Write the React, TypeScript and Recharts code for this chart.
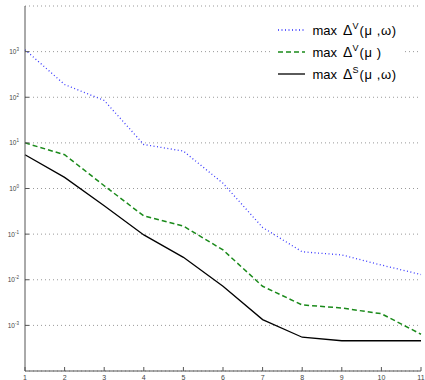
import { LineChart, Line, XAxis, YAxis, CartesianGrid } from 'recharts'

const steps = [1, 2, 3, 4, 5, 6, 7, 8, 9, 10, 11]
const maxDeltaVMuOmega = [1100, 190, 85, 9.2, 6.6, 1.3, 0.14, 0.041, 0.035, 0.021, 0.013]
const maxDeltaVMu = [10, 5.5, 1.15, 0.25, 0.15, 0.045, 0.0072, 0.0028, 0.0024, 0.0018, 0.00064]
const maxDeltaSMuOmega = [5.5, 1.75, 0.42, 0.096, 0.031, 0.0072, 0.00134, 0.00055, 0.00046, 0.00046, 0.00046]

const yTicks = [1e-3, 1e-2, 1e-1, 1, 10, 100, 1000]
const xTicks = steps

const data = steps.map((s, i) => ({
  step: s,
  vmw: maxDeltaVMuOmega[i],
  vm: maxDeltaVMu[i],
  smw: maxDeltaSMuOmega[i],
}))

const axisColor = '#555'
const font = '"Liberation Sans", Arial, sans-serif'

function YTick({ x, y, payload }: any) {
  const exp = Math.round(Math.log10(payload.value))
  return (
    <g>
      <line x1={x} y1={y} x2={x + 4} y2={y} stroke={axisColor} />
      <text x={x - 6} y={y + 2.5} textAnchor="end" fontSize={6.5} fill="#444" fontFamily={font}>
        10
        <tspan dy={-3} fontSize={4.5}>{exp}</tspan>
      </text>
    </g>
  )
}

function XTick({ x, y, payload }: any) {
  return (
    <g>
      <line x1={x} y1={y} x2={x} y2={y - 4} stroke={axisColor} />
      <text x={x} y={y + 9} textAnchor="middle" fontSize={7} fill="#444" fontFamily={font}>
        {payload.value}
      </text>
    </g>
  )
}

const legendRows = [
  { sup: 'V', args: '(μ ,ω)', color: '#2a2aff', dash: '1 2.5' },
  { sup: 'V', args: '(μ )', color: '#1a8a1a', dash: '5 3' },
  { sup: 'S', args: '(μ ,ω)', color: '#000', dash: undefined },
]

function LegendBox() {
  return (
    <svg width={133} height={68} style={{ position: 'absolute', left: 272, top: 18, background: '#fff' }}>
      {legendRows.map((r, i) => {
        const cy = 12 + i * 22
        return (
          <g key={i} fontFamily={font} fill="#000">
            <line x1={6} x2={33} y1={cy} y2={cy} stroke={r.color} strokeWidth={r.dash ? 1.5 : 1.3} strokeDasharray={r.dash} />
            <text x={40.5} y={cy + 5} fontSize={13}>max</text>
            <text x={71} y={cy + 5} fontSize={14}>Δ</text>
            <text x={80.5} y={cy - 1} fontSize={9}>{r.sup}</text>
            <text x={87.5} y={cy + 5} fontSize={13} letterSpacing={0.6}>{r.args}</text>
          </g>
        )
      })}
    </svg>
  )
}

export default function App() {
  return (
    <div style={{ position: 'relative', width: 425, height: 380 }}>
      <style>{`body{margin:0}`}</style>
      <LineChart width={425} height={380} data={data} margin={{ top: 6, right: 4, bottom: 0, left: 0 }}>
        <CartesianGrid vertical={false} stroke="#999" strokeDasharray="1 3" />
        <XAxis
          dataKey="step"
          type="number"
          domain={[1, 11]}
          ticks={xTicks}
          height={9}
          tickSize={0}
          tickMargin={0}
          tickLine={false}
          stroke={axisColor}
          tick={<XTick />}
          interval={0}
        />
        <YAxis
          scale="log"
          domain={[1e-4, 1e4]}
          ticks={yTicks}
          width={25}
          tickSize={0}
          tickMargin={0}
          tickLine={false}
          stroke={axisColor}
          tick={<YTick />}
          interval={0}
          allowDataOverflow
        />
        <Line dataKey="vmw" stroke="#3a3aff" strokeWidth={1.3} strokeDasharray="1 2.5" dot={false} isAnimationActive={false} />
        <Line dataKey="vm" stroke="#1a8a1a" strokeWidth={1.5} strokeDasharray="5 3" dot={false} isAnimationActive={false} />
        <Line dataKey="smw" stroke="#000" strokeWidth={1.3} dot={false} isAnimationActive={false} />
      </LineChart>
      <LegendBox />
    </div>
  )
}
